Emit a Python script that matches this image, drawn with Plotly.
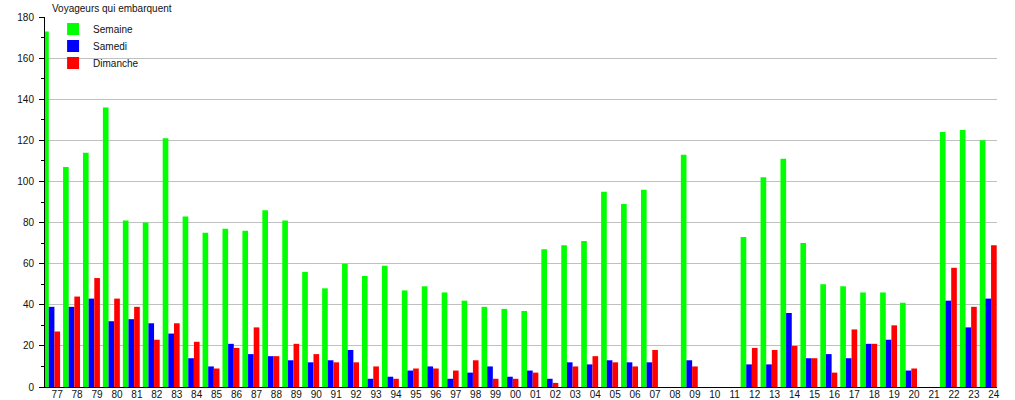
import plotly.graph_objects as go

years = ["77", "78", "79", "80", "81", "82", "83", "84", "85", "86", "87", "88",
         "89", "90", "91", "92", "93", "94", "95", "96", "97", "98", "99", "00",
         "01", "02", "03", "04", "05", "06", "07", "08", "09", "10", "11", "12",
         "13", "14", "15", "16", "17", "18", "19", "20", "21", "22", "23", "24"]

semaine = [173, 107, 114, 136, 81, 80, 121, 83, 75, 77, 76, 86,
           81, 56, 48, 60, 54, 59, 47, 49, 46, 42, 39, 38,
           37, 67, 69, 71, 95, 89, 96, 0, 113, 0, 0, 73,
           102, 111, 70, 50, 49, 46, 46, 41, 0, 124, 125, 120]

samedi = [39, 39, 43, 32, 33, 31, 26, 14, 10, 21, 16, 15,
          13, 12, 13, 18, 4, 5, 8, 10, 4, 7, 10, 5,
          8, 4, 12, 11, 13, 12, 12, 0, 13, 0, 0, 11,
          11, 36, 14, 16, 14, 21, 23, 8, 0, 42, 29, 43]

dimanche = [27, 44, 53, 43, 39, 23, 31, 22, 9, 19, 29, 15,
            21, 16, 12, 12, 10, 4, 9, 9, 8, 13, 4, 4,
            7, 2, 10, 15, 12, 10, 18, 0, 10, 0, 0, 19,
            18, 20, 14, 7, 28, 21, 30, 9, 0, 58, 39, 69]

series = [("Semaine", semaine, "#00ff00", "legend"),
          ("Samedi", samedi, "#0000ff", "legend2"),
          ("Dimanche", dimanche, "#ff0000", "legend3")]

idx = list(range(len(years)))
font_family = "Liberation Sans, Arial, sans-serif"
txt_color = "#111"
fsize = 10

fig = go.Figure()
for name, vals, color, lg in series:
    fig.add_trace(go.Bar(x=idx, y=vals, name=name, legend=lg,
                         marker=dict(color=color, line=dict(width=0))))

legend_y = {"legend": 0.9676, "legend2": 0.9216, "legend3": 0.8757}
legend_common = dict(x=0.0085, xanchor="left", yanchor="middle",
                     bgcolor="rgba(255,255,255,0)",
                     font=dict(size=fsize, color=txt_color, family=font_family),
                     itemwidth=30, borderwidth=0)

fig.update_layout(
    width=1015, height=400,
    barmode="group", bargap=0.15, bargroupgap=0,
    plot_bgcolor="white", paper_bgcolor="white",
    margin=dict(l=45, r=18, t=17, b=13, autoexpand=False),
    font=dict(family=font_family, size=fsize, color=txt_color),
    showlegend=True,
    legend=dict(y=legend_y["legend"], **legend_common),
    legend2=dict(y=legend_y["legend2"], **legend_common),
    legend3=dict(y=legend_y["legend3"], **legend_common),
    annotations=[dict(text="Voyageurs qui embarquent", xref="paper", yref="paper",
                      x=0.005, y=1.0, yshift=1, xanchor="left", yanchor="bottom",
                      showarrow=False, font=dict(size=fsize, color=txt_color))],
)

fig.update_xaxes(
    range=[-0.331, 47.44],
    tickvals=[i + 0.28 for i in idx], ticktext=years,
    showline=True, linecolor="black", linewidth=1,
    showgrid=False, ticks="", ticklen=0, zeroline=False,
    ticklabelstandoff=-2,
    tickfont=dict(size=fsize, color=txt_color),
)
fig.update_yaxes(
    range=[0, 180], dtick=20, tick0=0,
    showline=True, linecolor="black", linewidth=1,
    showgrid=True, gridcolor="#c0c0c0", gridwidth=1,
    ticks="outside", ticklen=5, tickcolor="black", ticklabelstandoff=3,
    minor=dict(dtick=10, ticks="outside", ticklen=3, tickcolor="black", showgrid=False),
    zeroline=False,
    tickfont=dict(size=fsize, color=txt_color),
)

fig.write_html("out.html",
               config={"displayModeBar": False},
               post_script="document.body.style.margin='0';document.body.style.overflow='hidden';")
